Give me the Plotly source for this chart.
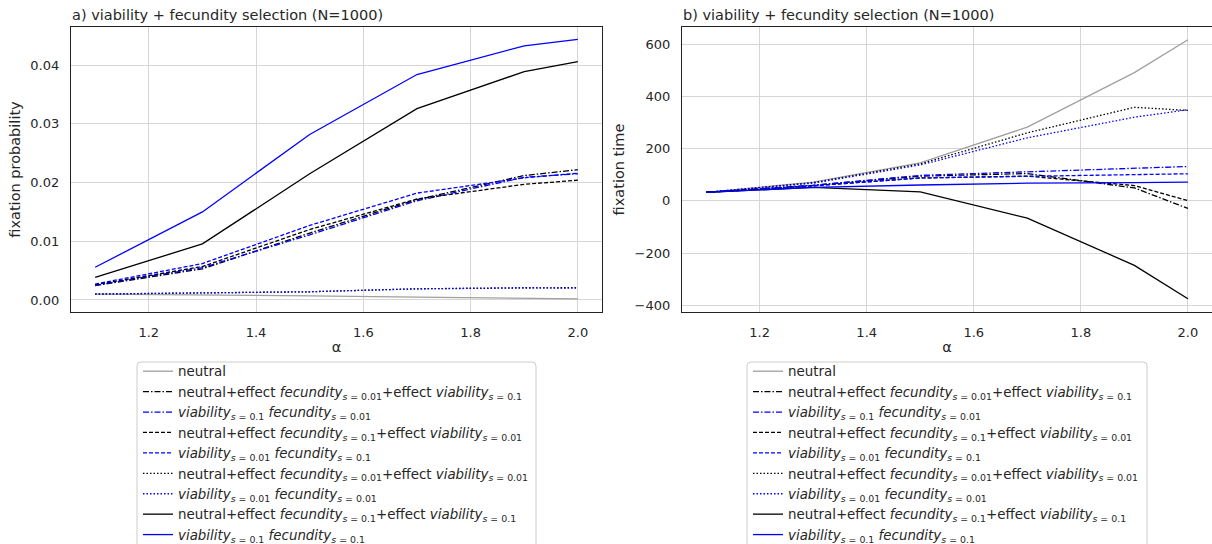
import plotly.graph_objects as go

# alpha values (x axis)
alpha = [1.1, 1.3, 1.5, 1.7, 1.9, 2.0]

# ---- panel a) fixation probability ----
prob_neutral = [0.0010, 0.0009, 0.0007, 0.0005, 0.0003, 0.0002]
prob_nf001_v01 = [0.00245, 0.0053, 0.0114, 0.0171, 0.0212, 0.0222]
prob_v01_f001 = [0.0025, 0.0055, 0.0111, 0.0169, 0.0209, 0.0215]
prob_nf01_v001 = [0.0026, 0.0057, 0.0120, 0.0172, 0.0197, 0.0204]
prob_v001_f01 = [0.0027, 0.0062, 0.0127, 0.0182, 0.0208, 0.0216]
prob_nf001_v001 = [0.0010, 0.0012, 0.0014, 0.0019, 0.0021, 0.0021]
prob_v001_f001 = [0.00102, 0.0012, 0.0014, 0.0019, 0.0021, 0.0020]
prob_nf01_v01 = [0.00386, 0.00955, 0.0215, 0.0326, 0.0389, 0.0406]
prob_v01_f01 = [0.00557, 0.0150, 0.0282, 0.0384, 0.0433, 0.0444]

# ---- panel b) fixation time ----
time_neutral = [33, 72, 146, 283, 492, 618]
time_nf001_v01 = [33, 60, 95, 105, 50, -29]
time_v01_f001 = [33, 60, 98, 111, 124, 132]
time_nf01_v001 = [33, 58, 88, 95, 59, 1]
time_v001_f01 = [33, 58, 88, 95, 101, 104]
time_nf001_v001 = [33, 70, 142, 261, 359, 347]
time_v001_f001 = [33, 68, 138, 242, 321, 350]
time_nf01_v01 = [33, 52, 35, -66, -247, -375]
time_v01_f01 = [33, 52, 61, 68, 70, 72]

# legend labels
def sub(v):
    return f"<sub><i>s</i> = {v}</sub>"

labels = [
    "neutral",
    f"neutral+effect <i>fecundity</i>{sub('0.01')}+effect <i>viability</i>{sub('0.1')}",
    f"<i>viability</i>{sub('0.1')} <i>fecundity</i>{sub('0.01')}",
    f"neutral+effect <i>fecundity</i>{sub('0.1')}+effect <i>viability</i>{sub('0.01')}",
    f"<i>viability</i>{sub('0.01')} <i>fecundity</i>{sub('0.1')}",
    f"neutral+effect <i>fecundity</i>{sub('0.01')}+effect <i>viability</i>{sub('0.01')}",
    f"<i>viability</i>{sub('0.01')} <i>fecundity</i>{sub('0.01')}",
    f"neutral+effect <i>fecundity</i>{sub('0.1')}+effect <i>viability</i>{sub('0.1')}",
    f"<i>viability</i>{sub('0.1')} <i>fecundity</i>{sub('0.1')}",
]

GRAY = "#a0a0a0"
BLACK = "#000000"
BLUE = "#0000ff"
DASHDOT = "6px,2px,1.5px,2px"
DASH = "4px,2px"
DOT = "1.5px,2px"

styles = [
    (GRAY, "solid"),
    (BLACK, DASHDOT),
    (BLUE, DASHDOT),
    (BLACK, DASH),
    (BLUE, DASH),
    (BLACK, DOT),
    (BLUE, DOT),
    (BLACK, "solid"),
    (BLUE, "solid"),
]

prob_series = [prob_neutral, prob_nf001_v01, prob_v01_f001, prob_nf01_v001,
               prob_v001_f01, prob_nf001_v001, prob_v001_f001, prob_nf01_v01,
               prob_v01_f01]
time_series = [time_neutral, time_nf001_v01, time_v01_f001, time_nf01_v001,
               time_v001_f01, time_nf001_v001, time_v001_f001, time_nf01_v01,
               time_v01_f01]

fig = go.Figure()

for (col, dash), lab, ys in zip(styles, labels, prob_series):
    fig.add_trace(go.Scatter(x=alpha, y=ys, mode="lines", name=lab,
                             line=dict(color=col, width=1.3, dash=dash),
                             xaxis="x", yaxis="y", legend="legend"))
for (col, dash), lab, ys in zip(styles, labels, time_series):
    fig.add_trace(go.Scatter(x=alpha, y=ys, mode="lines", name=lab,
                             line=dict(color=col, width=1.3, dash=dash),
                             xaxis="x2", yaxis="y2", legend="legend2"))

W, H = 1212, 544
TEXT = "#262626"
FONT = "DejaVu Sans"
GRID = "#d6d6d6"
SPINE = "#222222"
TICK_SIZE = 13
LABEL_SIZE = 14.5
LEGEND_SIZE = 13.4

y_dom = [1 - 312 / H, 1 - 27 / H]

axis_common = dict(
    showgrid=True, gridcolor=GRID, gridwidth=1,
    showline=True, linecolor=SPINE, linewidth=1.2,
    zeroline=False, ticks="", tickfont=dict(family=FONT, size=TICK_SIZE, color=TEXT),
    ticklabelstandoff=8,
)
label_font = dict(family=FONT, size=LABEL_SIZE, color=TEXT)
x_ticks = dict(tickvals=[1.2, 1.4, 1.6, 1.8, 2.0],
               ticktext=["1.2", "1.4", "1.6", "1.8", "2.0"])


def legend_frame(x0, x1, top, r=4):
    """Rounded-top legend frame running past the lower figure edge (pixel coords)."""
    px = lambda v: v / W
    py = lambda v: 1 - v / H
    bottom = H + 10
    path = (f"M {px(x0)},{py(bottom)} L {px(x0)},{py(top + r)} "
            f"Q {px(x0)},{py(top)} {px(x0 + r)},{py(top)} "
            f"L {px(x1 - r)},{py(top)} "
            f"Q {px(x1)},{py(top)} {px(x1)},{py(top + r)} "
            f"L {px(x1)},{py(bottom)} Z")
    return dict(type="path", xref="paper", yref="paper", path=path,
                fillcolor="white", line=dict(color="#cccccc", width=1),
                layer="above")


legend_common = dict(xanchor="left", yanchor="top", bgcolor="rgba(0,0,0,0)",
                     borderwidth=0,
                     font=dict(family=FONT, size=LEGEND_SIZE, color=TEXT))

fig.update_layout(
    width=W, height=H,
    margin=dict(l=0, r=0, t=0, b=0, autoexpand=False),
    paper_bgcolor="white", plot_bgcolor="white",
    font=dict(family=FONT, size=12, color=TEXT),
    showlegend=True,
    xaxis=dict(domain=[71 / W, 602 / W], range=[1.055, 2.045], anchor="y",
               mirror=True, title=dict(text="α", font=label_font, standoff=3),
               automargin=False, **x_ticks, **axis_common),
    yaxis=dict(domain=y_dom, range=[-0.00205, 0.0465], anchor="x",
               mirror=True, tickvals=[0, 0.01, 0.02, 0.03, 0.04],
               ticktext=["0.00", "0.01", "0.02", "0.03", "0.04"],
               title=dict(text="fixation probability", font=label_font, standoff=6),
               automargin=False, **axis_common),
    xaxis2=dict(domain=[682 / W, 1.0], range=[1.055, 2.045], anchor="y2",
                mirror=True, title=dict(text="α", font=label_font, standoff=3),
                automargin=False, **x_ticks, **axis_common),
    yaxis2=dict(domain=y_dom, range=[-426, 667], anchor="x2",
                mirror=False, tickvals=[-400, -200, 0, 200, 400, 600],
                ticktext=["−400", "−200", "0", "200", "400", "600"],
                title=dict(text="fixation time", font=label_font, standoff=6),
                automargin=False, **axis_common),
    legend=dict(x=138 / W, y=1 - 356 / H, **legend_common),
    legend2=dict(x=748 / W, y=1 - 356 / H, **legend_common),
    shapes=[legend_frame(137, 536, 362), legend_frame(747, 1147, 362)],
    annotations=[
        dict(text="a) viability + fecundity selection (N=1000)", x=70 / W, y=1 - 25 / H,
             xref="paper", yref="paper", xanchor="left", yanchor="bottom",
             showarrow=False, font=label_font),
        dict(text="b) viability + fecundity selection (N=1000)", x=681 / W, y=1 - 25 / H,
             xref="paper", yref="paper", xanchor="left", yanchor="bottom",
             showarrow=False, font=label_font),
    ],
)

fig.write_html("out.html")
